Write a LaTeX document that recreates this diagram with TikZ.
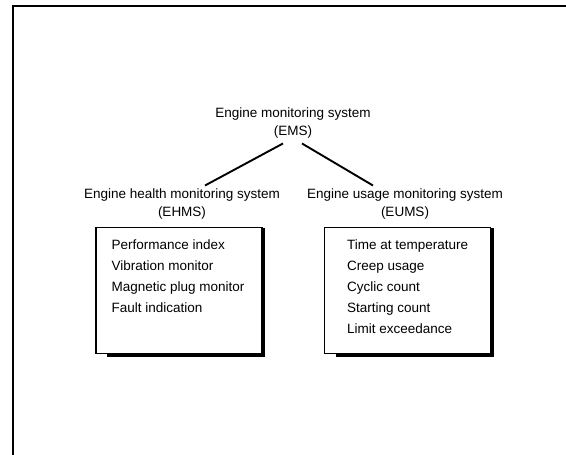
\documentclass[tikz,border=0pt]{standalone}
\usepackage{fontspec}
\setmainfont{Liberation Sans}
\begin{document}
\begin{tikzpicture}[x=1pt,y=-1pt,
  lbl/.style={align=center,inner sep=0pt,font=\fontsize{13.5}{18}\selectfont},
  lst/.style={align=left,inner sep=0pt,anchor=north west,font=\fontsize{13.5}{21}\selectfont},
  frame/.style={line width=2.8pt},
  link/.style={line width=1.9pt},
  boxs/.style={draw,line width=1.2pt,minimum width=166pt,minimum height=126pt,inner sep=0pt},
  shadow/.style={line width=3.2pt}]
\useasboundingbox (0,0) rectangle (566,455);
\fill[white] (0,0) rectangle (566,455);
% frame
\coordinate (fa) at (13,455);
\coordinate (fb) at (13,6);
\coordinate (fc) at (566,6);
\draw[frame] (fa) -- (fb) -- (fc);
% labels
\node[lbl] (ems) at (293,123) {Engine monitoring system\\(EMS)};
\node[lbl] (ehms) at (182,204) {Engine health monitoring system\\(EHMS)};
\node[lbl] (eums) at (405,204) {Engine usage monitoring system\\(EUMS)};
\draw[link] ([shift={(-10,5)}]ems.south) -- ([shift={(23,-3)}]ehms.north);
\draw[link] ([shift={(9,5)}]ems.south) -- ([shift={(-32,-3)}]eums.north);
% boxes
\node[boxs] (hbox) at (179,290.5) {};
\node[boxs] (ubox) at (407.5,290.5) {};
\draw[shadow] ([shift={(1.2,1)}]hbox.north east) -- ([shift={(1.2,1.2)}]hbox.south east) -- ([shift={(12,1.2)}]hbox.south west);
\draw[shadow] ([shift={(1.2,1)}]ubox.north east) -- ([shift={(1.2,1.2)}]ubox.south east) -- ([shift={(12,1.2)}]ubox.south west);
\node[lst] (hlist) at ([shift={(16,13)}]hbox.north west) {Performance index\\Vibration monitor\\Magnetic plug monitor\\Fault indication};
\node[lst] (ulist) at ([shift={(23,13)}]ubox.north west) {Time at temperature\\Creep usage\\Cyclic count\\Starting count\\Limit exceedance};
\end{tikzpicture}
\end{document}
